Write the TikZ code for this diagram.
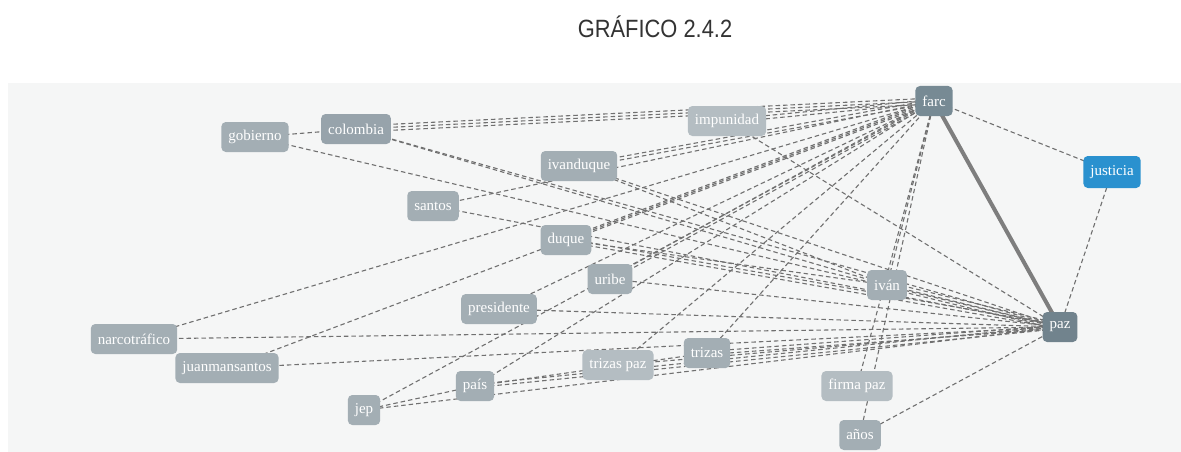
\documentclass[tikz,border=0pt]{standalone}
\usepackage{fontspec}
\setmainfont{Liberation Serif}
\newfontfamily\titlefont[FakeStretch=0.875]{Liberation Sans}
\usetikzlibrary{backgrounds}
\definecolor{panel}{HTML}{F5F6F6}
\definecolor{nmid}{HTML}{A3AEB4}
\definecolor{ndark}{HTML}{97A3AB}
\definecolor{nlight}{HTML}{B4BDC2}
\definecolor{nhub}{HTML}{778A94}
\definecolor{nblue}{HTML}{2A91CF}
\definecolor{edgec}{HTML}{707070}
\tikzset{
  x=1pt, y=-1pt,
  word/.style={rounded corners=4.5pt, fill=nmid, text=white, inner xsep=7pt, inner ysep=0pt,
    minimum height=30pt, font=\fontsize{15}{15}\selectfont, anchor=center},
  edge/.style={draw=edgec, line width=1.1pt, dash pattern=on 4.5pt off 3pt},
  strong/.style={draw=edgec!90!white, line width=4pt},
}
\newcommand{\dbl}[2]{%
  \draw[edge] ([yshift=1.6pt]#1.center) -- ([yshift=1.6pt]#2.center);
  \draw[edge] ([yshift=-1.6pt]#1.center) -- ([yshift=-1.6pt]#2.center);}
\newcommand{\sgl}[2]{\draw[edge] (#1.center) -- (#2.center);}
\begin{document}
\begin{tikzpicture}
\useasboundingbox (0,0) rectangle (1181,452);
\node[font=\titlefont\fontsize{25}{25}\selectfont, text=black!80, inner sep=0pt] (title) at (655,27) {GRÁFICO 2.4.2};

% nodes
\node[word, fill=nhub] (farc) at (934,101) {farc};
\node[word, fill=nblue, minimum height=32pt] (justicia) at (1112,172) {justicia};
\node[word, fill=nhub!95!black] (paz) at (1060,327) {paz};
\node[word, fill=nlight] (impunidad) at (727,121) {impunidad};
\node[word, fill=ndark] (colombia) at (356,129) {colombia};
\node[word] (gobierno) at (255,137) {gobierno};
\node[word] (ivanduque) at (579,166) {ivanduque};
\node[word] (santos) at (433,206) {santos};
\node[word] (duque) at (566,240) {duque};
\node[word] (uribe) at (610,279) {uribe};
\node[word] (ivan) at (887,285) {iván};
\node[word] (presidente) at (499,309) {presidente};
\node[word] (narco) at (134,339) {narcotráfico};
\node[word] (juan) at (227,368) {juanmansantos};
\node[word] (trizas) at (707,353) {trizas};
\node[word, fill=nlight] (trizaspaz) at (618,365) {trizas paz};
\node[word] (pais) at (475,386) {país};
\node[word] (jep) at (364,410) {jep};
\node[word, fill=nlight] (firma) at (857,386) {firma paz};
\node[word] (anos) at (860,435) {años};

\begin{scope}[on background layer]
\fill[panel] (8,83) rectangle (1181,452);
% farc edges
\draw[strong] (farc.center) -- (paz.center);
\sgl{farc}{justicia}
\sgl{paz}{justicia}
\dbl{farc}{impunidad}
\draw[edge] ([yshift=3pt]colombia.center) -- ([yshift=3pt]farc.center);
\draw[edge] (colombia.center) -- (farc.center);
\draw[edge] ([yshift=-3pt]colombia.center) -- ([yshift=-3pt]farc.center);
\dbl{farc}{ivanduque}
\sgl{farc}{santos}
\dbl{farc}{duque}
\sgl{farc}{juan}
\sgl{farc}{narco}
\dbl{farc}{uribe}
\sgl{farc}{presidente}
\sgl{farc}{pais}
\sgl{farc}{jep}
\sgl{farc}{trizas}
\sgl{farc}{trizaspaz}
\sgl{farc}{firma}
\sgl{farc}{anos}
\sgl{farc}{ivan}
% paz edges
\sgl{gobierno}{colombia}
\sgl{gobierno}{paz}
\sgl{colombia}{paz}
\sgl{colombia}{ivan}
\sgl{impunidad}{paz}
\sgl{ivanduque}{paz}
\sgl{ivanduque}{ivan}
\sgl{santos}{paz}
\dbl{duque}{paz}
\sgl{duque}{ivan}
\sgl{uribe}{paz}
\sgl{presidente}{paz}
\sgl{narco}{paz}
\sgl{juan}{paz}
\dbl{pais}{paz}
\sgl{pais}{trizas}
\sgl{jep}{paz}
\sgl{jep}{pais}
\dbl{trizas}{paz}
\sgl{trizaspaz}{paz}
\draw[edge] ([yshift=3pt]ivan.center) -- ([yshift=3pt]paz.center);
\draw[edge] (ivan.center) -- (paz.center);
\draw[edge] ([yshift=-3pt]ivan.center) -- ([yshift=-3pt]paz.center);
\sgl{anos}{paz}
\end{scope}
\end{tikzpicture}
\end{document}
